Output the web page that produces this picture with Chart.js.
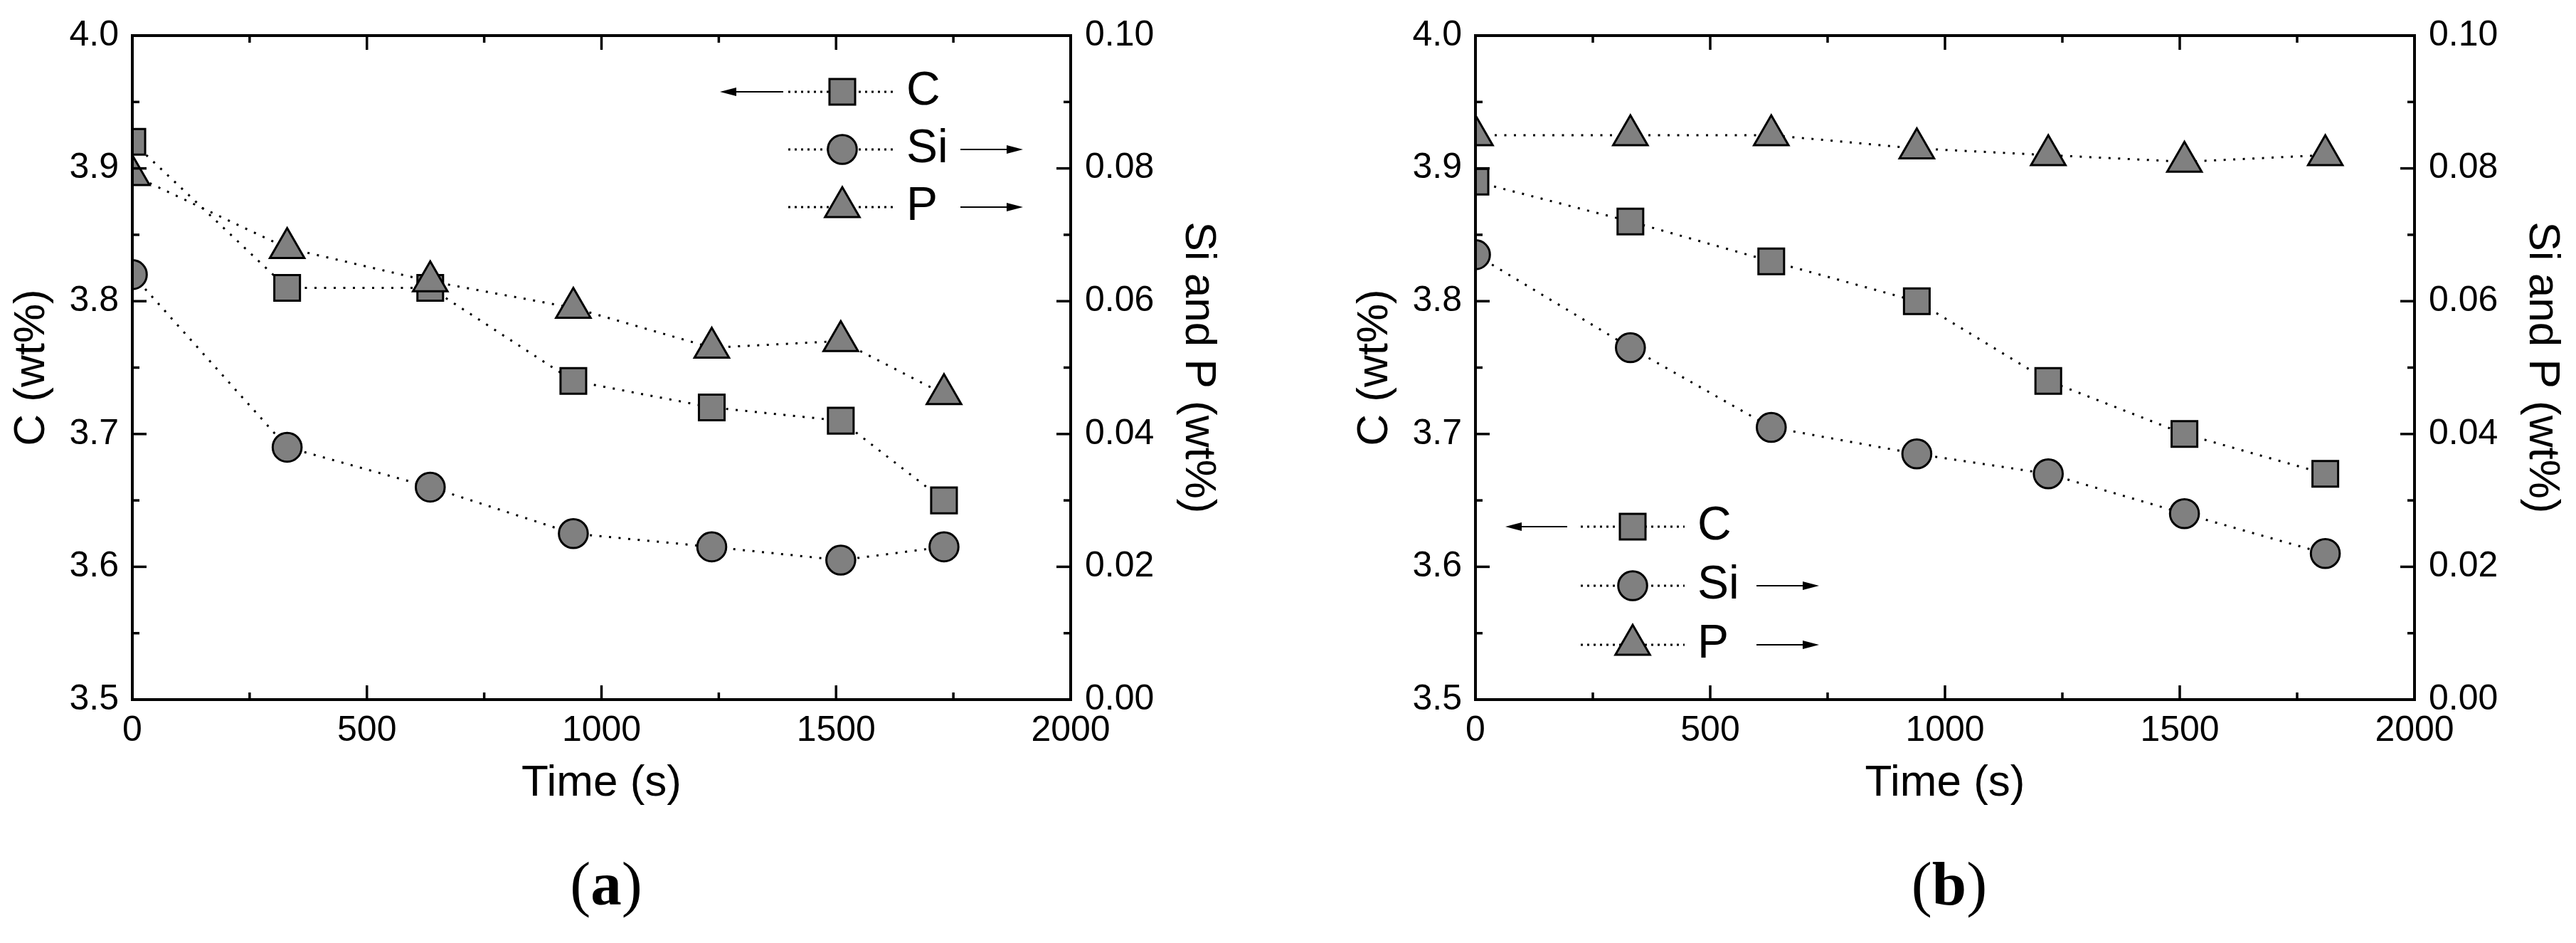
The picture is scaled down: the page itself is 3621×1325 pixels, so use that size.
<!DOCTYPE html>
<html>
<head>
<meta charset="utf-8">
<script src="https://cdn.jsdelivr.net/npm/chart.js@4/dist/chart.umd.min.js"></script>
<style>
  html, body { margin: 0; padding: 0; background: #ffffff; }
  #wrap { position: relative; width: 3621px; height: 1325px; overflow: hidden; background: #fff; }
  canvas { position: absolute; top: 0; }
  .cap { position: absolute; top: 1198px; font-family: "Liberation Serif", "Times New Roman", serif;
         font-size: 87px; line-height: 87px; color: #000; transform: translateX(-50%); white-space: nowrap; }
</style>
</head>
<body>
<div id="wrap">
  <canvas id="chartA" width="1810" height="1325" style="left:0px"></canvas>
  <canvas id="chartB" width="1811" height="1325" style="left:1810px"></canvas>
  <div class="cap" style="left:852px">(<b>a</b>)</div>
  <div class="cap" style="left:2740px">(<b>b</b>)</div>
</div>
<script>
// ---------- data ----------
const seriesNames = ['C', 'Si', 'P'];

const timeA    = [0, 330, 635, 940, 1235, 1510, 1730];
const carbonA  = [3.92, 3.81, 3.81, 3.74, 3.72, 3.71, 3.65];
const siliconA = [0.064, 0.038, 0.032, 0.025, 0.023, 0.021, 0.023];
const phosA    = [0.079, 0.068, 0.063, 0.059, 0.053, 0.054, 0.046];

const timeB    = [0, 330, 630, 940, 1220, 1510, 1810];
const carbonB  = [3.89, 3.86, 3.83, 3.80, 3.74, 3.70, 3.67];
const siliconB = [0.067, 0.053, 0.041, 0.037, 0.034, 0.028, 0.022];
const phosB    = [0.085, 0.085, 0.085, 0.083, 0.082, 0.081, 0.082];

const xTicks  = [0, 500, 1000, 1500, 2000];
const cTicks  = [3.5, 3.6, 3.7, 3.8, 3.9, 4.0];
const spTicks = [0.00, 0.02, 0.04, 0.06, 0.08, 0.10];

// ---------- styling ----------
const FONT = '"Liberation Sans", Arial, Helvetica, sans-serif';
const GREY = '#808080';
const STYLES = ['rect', 'circle', 'triangle'];
const RADII = [25.5, 20.3, 28];

function drawMarker(ctx, style, x, y, r) {
  ctx.beginPath();
  if (style === 'rect') {
    const s = Math.SQRT1_2 * r;
    ctx.rect(x - s, y - s, 2 * s, 2 * s);
  } else if (style === 'circle') {
    ctx.arc(x, y, r, 0, Math.PI * 2);
  } else {
    let a = 0;
    ctx.moveTo(x + Math.sin(a) * r, y - Math.cos(a) * r);
    a += 2 * Math.PI / 3;
    ctx.lineTo(x + Math.sin(a) * r, y - Math.cos(a) * r);
    a += 2 * Math.PI / 3;
    ctx.lineTo(x + Math.sin(a) * r, y - Math.cos(a) * r);
    ctx.closePath();
  }
  ctx.fillStyle = GREY;
  ctx.fill();
  ctx.lineWidth = 3;
  ctx.strokeStyle = '#000';
  ctx.setLineDash([]);
  ctx.stroke();
}

function drawArrow(ctx, x0, x1, y) {
  const dir = Math.sign(x1 - x0);
  const head = 23, hw = 6;
  ctx.setLineDash([]);
  ctx.strokeStyle = '#000';
  ctx.lineWidth = 2;
  ctx.beginPath();
  ctx.moveTo(x0, y);
  ctx.lineTo(x1 - dir * head * 0.8, y);
  ctx.stroke();
  ctx.fillStyle = '#000';
  ctx.beginPath();
  ctx.moveTo(x1, y);
  ctx.lineTo(x1 - dir * head, y - hw);
  ctx.lineTo(x1 - dir * head, y + hw);
  ctx.closePath();
  ctx.fill();
}

// frame with inward major/minor ticks
const frameTicks = {
  id: 'frameTicks',
  afterDatasetsDraw(chart) {
    const { ctx, chartArea: a, scales } = chart;
    ctx.save();
    ctx.setLineDash([]);
    ctx.strokeStyle = '#000';
    ctx.lineWidth = 3.5;
    ctx.lineCap = 'butt';
    const seg = (x0, y0, x1, y1) => { ctx.beginPath(); ctx.moveTo(x0, y0); ctx.lineTo(x1, y1); ctx.stroke(); };
    const xs = scales.x;
    for (let k = 0; k <= 8; k++) {
      const px = xs.getPixelForValue(xs.min + k * (xs.max - xs.min) / 8);
      const len = k % 2 === 0 ? 20 : 10;
      seg(px, a.bottom, px, a.bottom - len);
      seg(px, a.top, px, a.top + len);
    }
    const yl = scales.y;
    for (let k = 0; k <= 10; k++) {
      const py = yl.getPixelForValue(yl.min + k * (yl.max - yl.min) / 10);
      seg(a.left, py, a.left + (k % 2 === 0 ? 20 : 10), py);
    }
    const yr = scales.y2;
    for (let k = 0; k <= 10; k++) {
      const py = yr.getPixelForValue(yr.min + k * (yr.max - yr.min) / 10);
      seg(a.right, py, a.right - (k % 2 === 0 ? 20 : 10), py);
    }
    ctx.lineWidth = 4;
    ctx.strokeRect(a.left, a.top, a.right - a.left, a.bottom - a.top);
    ctx.restore();
  }
};

// legend with dotted segment, marker, label and axis arrow
const arrowLegend = {
  id: 'arrowLegend',
  afterDraw(chart, args, o) {
    const { ctx, chartArea: a } = chart;
    const mx = a.left + o.markerX;
    ctx.save();
    for (let i = 0; i < 3; i++) {
      const y = a.top + o.rowY + i * o.rowGap;
      ctx.setLineDash([3, 6]);
      ctx.lineWidth = 3;
      ctx.strokeStyle = '#000';
      ctx.beginPath();
      ctx.moveTo(mx - o.half, y);
      ctx.lineTo(mx + o.half, y);
      ctx.stroke();
      drawMarker(ctx, STYLES[i], mx, y, RADII[i]);
      ctx.fillStyle = '#000';
      ctx.font = '66px ' + FONT;
      ctx.textAlign = 'left';
      ctx.textBaseline = 'middle';
      ctx.fillText(seriesNames[i], mx + o.labelDx, y);
      if (i === 0) drawArrow(ctx, mx + o.leftArrow[0], mx + o.leftArrow[1], y);
      else drawArrow(ctx, mx + o.rightArrow[0], mx + o.rightArrow[1], y);
    }
    ctx.restore();
  }
};

function makeDatasets(t, c, s, p) {
  const common = {
    borderColor: '#000', borderWidth: 3, borderDash: [3, 10.5], borderCapStyle: 'butt',
    pointBackgroundColor: GREY, pointBorderColor: '#000', pointBorderWidth: 3,
    pointHoverRadius: 0, fill: false, tension: 0
  };
  return [
    Object.assign({}, common, { label: seriesNames[0], data: t.map((x, i) => ({ x, y: c[i] })), yAxisID: 'y',  pointStyle: STYLES[0], pointRadius: RADII[0], order: 2 }),
    Object.assign({}, common, { label: seriesNames[1], data: t.map((x, i) => ({ x, y: s[i] })), yAxisID: 'y2', pointStyle: STYLES[1], pointRadius: RADII[1], order: 1 }),
    Object.assign({}, common, { label: seriesNames[2], data: t.map((x, i) => ({ x, y: p[i] })), yAxisID: 'y2', pointStyle: STYLES[2], pointRadius: RADII[2], order: 0 })
  ];
}

function makeOptions(cfg) {
  const tickFont = { family: FONT, size: 50 };
  const titleFont = { family: FONT, size: 62 };
  return {
    responsive: false, animation: false, devicePixelRatio: 1,
    events: [],
    layout: { padding: { top: 40, left: 0, right: 0, bottom: 0 } },
    plugins: { legend: { display: false }, tooltip: { enabled: false }, arrowLegend: cfg.legend },
    scales: {
      x: {
        type: 'linear', position: 'bottom', min: 0, max: 2000,
        afterBuildTicks: s => { s.ticks = xTicks.map(v => ({ value: v })); },
        afterFit: s => { s.height = 342; },
        grid: { display: false, drawTicks: false }, border: { display: false },
        ticks: { font: tickFont, color: '#000', padding: 14, maxRotation: 0, autoSkip: false, callback: v => String(v) },
        title: { display: true, text: 'Time (s)', font: titleFont, color: '#000', padding: { top: 0, bottom: 187 } }
      },
      y: {
        type: 'linear', position: 'left', min: 3.5, max: 4.0,
        afterBuildTicks: s => { s.ticks = cTicks.map(v => ({ value: v })); },
        afterFit: s => { s.width = cfg.leftW; },
        grid: { display: false, drawTicks: false }, border: { display: false },
        ticks: { font: tickFont, color: '#000', padding: 19, autoSkip: false, callback: v => Number(v).toFixed(1) },
        title: { display: true, text: 'C (wt%)', font: titleFont, color: '#000', padding: { top: cfg.leftTitlePad, bottom: 0 } }
      },
      y2: {
        type: 'linear', position: 'right', min: 0, max: 0.1,
        afterBuildTicks: s => { s.ticks = spTicks.map(v => ({ value: v })); },
        afterFit: s => { s.width = cfg.rightW; },
        grid: { display: false, drawTicks: false }, border: { display: false },
        ticks: { font: tickFont, color: '#000', padding: 20, autoSkip: false, callback: v => Number(v).toFixed(2) },
        title: { display: true, text: 'Si and P (wt%)', font: titleFont, color: '#000', padding: { top: cfg.rightTitlePad, bottom: 0 } }
      }
    }
  };
}

new Chart(document.getElementById('chartA'), {
  type: 'line',
  data: { datasets: makeDatasets(timeA, carbonA, siliconA, phosA) },
  options: makeOptions({
    leftW: 186, rightW: 305, leftTitlePad: 8, rightTitlePad: 89,
    legend: { markerX: 998, rowY: 79, rowGap: 81, half: 76, labelDx: 90, leftArrow: [-83, -172], rightArrow: [166, 254] }
  }),
  plugins: [frameTicks, arrowLegend]
});

new Chart(document.getElementById('chartB'), {
  type: 'line',
  data: { datasets: makeDatasets(timeB, carbonB, siliconB, phosB) },
  options: makeOptions({
    leftW: 264, rightW: 227, leftTitlePad: 86, rightTitlePad: 11,
    legend: { markerX: 221, rowY: 690, rowGap: 83, half: 73, labelDx: 91, leftArrow: [-92, -179], rightArrow: [174, 262] }
  }),
  plugins: [frameTicks, arrowLegend]
});
</script>
</body>
</html>
